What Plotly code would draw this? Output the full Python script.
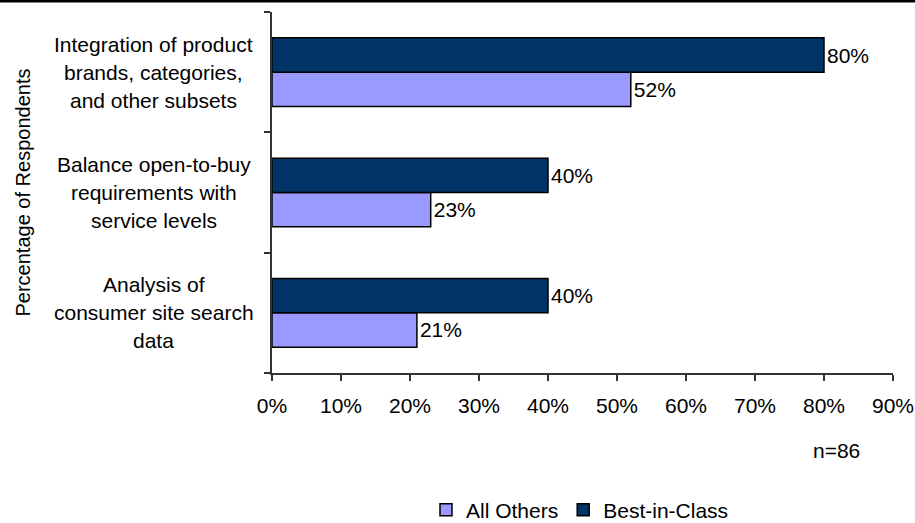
import plotly.graph_objects as go

# Category labels, top to bottom, split into display lines
category_lines = [
    ["Integration of product", "brands, categories,", "and other subsets"],
    ["Balance open-to-buy", "requirements with", "service levels"],
    ["Analysis of", "consumer site search", "data"],
]
categories = [" ".join(lines) for lines in category_lines]

all_others = [52, 23, 21]
best_in_class = [80, 40, 40]

x_ticks = [0, 10, 20, 30, 40, 50, 60, 70, 80, 90]
x_tick_labels = [f"{v}%" for v in x_ticks]

FONT = "Liberation Sans, Arial, sans-serif"
FS = 21
AXIS_COLOR = "#333333"

L, R, T, B = 272, 22, 12, 150
W, H = 915, 523
PW = W - L - R
PH = H - T - B


def px_x(px):
    """Page x pixel -> paper coordinate."""
    return (px - L) / PW


def px_y(py):
    """Page y pixel (from top) -> paper coordinate."""
    return (H - B - py) / PH


fig = go.Figure()
fig.add_trace(go.Bar(
    name="All Others", orientation="h",
    y=categories, x=all_others,
    marker=dict(color="#9999FF", line=dict(color="black", width=1.5)),
    text=[f"{v}%" for v in all_others], textposition="outside",
    textfont=dict(size=FS, color="black", family=FONT),
    cliponaxis=False,
))
fig.add_trace(go.Bar(
    name="Best-in-Class", orientation="h",
    y=categories, x=best_in_class,
    marker=dict(color="#003366", line=dict(color="black", width=1.5)),
    text=[f"{v}%" for v in best_in_class], textposition="outside",
    textfont=dict(size=FS, color="black", family=FONT),
    cliponaxis=False,
))

# Centered multi-line category labels
annotations = []
for cat, lines in zip(categories, category_lines):
    n = len(lines)
    for i, line in enumerate(lines):
        annotations.append(dict(
            text=line, xref="paper", yref="y", x=px_x(153.5), y=cat,
            xanchor="center", yanchor="middle", showarrow=False,
            yshift=(n - 1) / 2 * 28 - i * 28,
            font=dict(size=FS, color="black", family=FONT),
        ))

annotations.append(dict(
    text="Percentage of Respondents", xref="paper", yref="paper",
    x=px_x(22), y=0.5, textangle=-90, xanchor="center", yanchor="middle",
    showarrow=False, font=dict(size=20, color="black", family=FONT),
))
annotations.append(dict(
    text="n=86", xref="paper", yref="paper", x=px_x(836), y=px_y(450),
    xanchor="center", yanchor="middle", showarrow=False,
    font=dict(size=FS, color="black", family=FONT),
))

fig.update_layout(
    width=W, height=H,
    margin=dict(l=L, r=R, t=T, b=B, autoexpand=False),
    paper_bgcolor="white", plot_bgcolor="white",
    barmode="group", bargap=0.43, bargroupgap=0,
    font=dict(family=FONT, size=FS, color="black"),
    showlegend=True,
    legend=dict(
        orientation="h", x=px_x(580), xanchor="center",
        y=px_y(510), yanchor="middle",
        font=dict(size=FS, color="black", family=FONT),
        traceorder="normal",
    ),
    annotations=annotations,
    shapes=[dict(
        type="line", xref="paper", yref="paper",
        x0=px_x(-5), x1=px_x(W + 5), y0=px_y(1), y1=px_y(1),
        line=dict(color="black", width=3),
    )],
    xaxis=dict(
        range=[0, 90], tickvals=x_ticks, ticktext=x_tick_labels,
        showgrid=False, zeroline=False,
        showline=True, linecolor=AXIS_COLOR, linewidth=1.5,
        ticks="outside", ticklen=6, tickcolor=AXIS_COLOR, tickwidth=1.5,
        tickfont=dict(size=FS, color="black", family=FONT),
        ticklabelstandoff=7, ticklabeloverflow="allow",
    ),
    yaxis=dict(
        categoryorder="array", categoryarray=categories[::-1],
        showticklabels=False, showgrid=False, zeroline=False,
        showline=True, linecolor=AXIS_COLOR, linewidth=1.5,
        ticks="outside", ticklen=6, tickcolor=AXIS_COLOR, tickwidth=1.5,
        tickson="boundaries",
    ),
)

fig.write_html("out.html")
